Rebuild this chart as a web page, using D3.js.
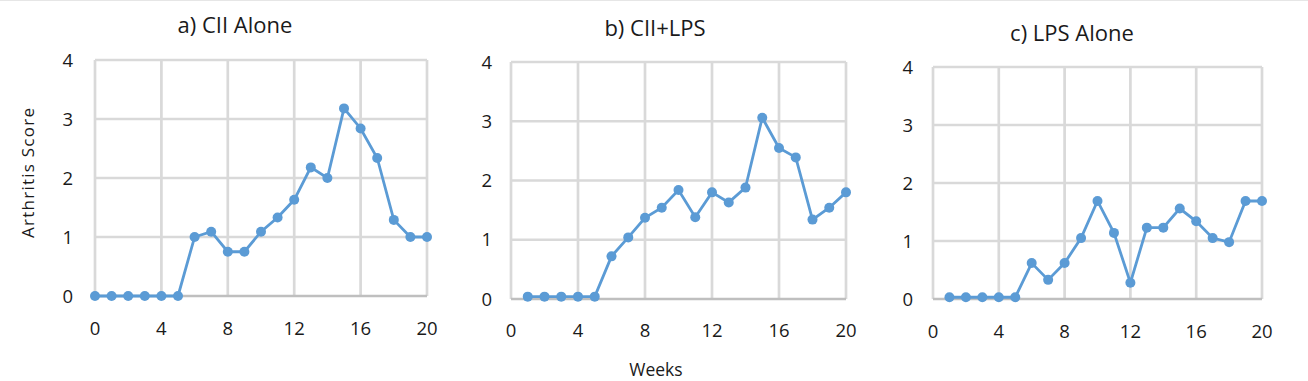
<!DOCTYPE html>
<html><head><meta charset="utf-8">
<script src="https://cdn.jsdelivr.net/npm/d3@7"></script>
<style>body{margin:0;background:#fff}svg{display:block}text{font-family:"Open Sans","Liberation Sans",sans-serif;fill:#1a1a1a}</style>
</head><body>
<script>
const titles = ["a) CII Alone", "b) CII+LPS", "c) LPS Alone"];
const weeksA = [0,1,2,3,4,5,6,7,8,9,10,11,12,13,14,15,16,17,18,19,20];
const weeksBC = [1,2,3,4,5,6,7,8,9,10,11,12,13,14,15,16,17,18,19,20];
const ciiAlone = [0,0,0,0,0,0,1.0,1.09,0.75,0.75,1.09,1.33,1.63,2.18,2.0,3.18,2.84,2.34,1.29,1.0,1.0];
const ciiLps = [0.04,0.04,0.04,0.04,0.04,0.72,1.04,1.37,1.54,1.84,1.38,1.80,1.63,1.88,3.06,2.55,2.39,1.34,1.54,1.80];
const lpsAlone = [0.03,0.03,0.03,0.03,0.03,0.62,0.33,0.62,1.05,1.69,1.14,0.28,1.23,1.23,1.56,1.34,1.05,0.98,1.69,1.69];
const xTicks = [0,4,8,12,16,20];
const yTicks = [0,1,2,3,4];
const yTitle = "Arthritis Score";
const xTitle = "Weeks";

const W = 1308, H = 381;
const svg = d3.select("body").append("svg").attr("width", W).attr("height", H);
svg.append("line").attr("x1",0).attr("x2",W).attr("y1",0.5).attr("y2",0.5).attr("stroke","#e6e6e6");

const panels = [
  {title: titles[0], x: weeksA, y: ciiAlone, left: 95, right: 427, top: 60, bottom: 296, titleX: 235, titleY: 33, yLabX: 73, xLabY: 335},
  {title: titles[1], x: weeksBC, y: ciiLps, left: 511, right: 846, top: 62, bottom: 299, titleX: 655, titleY: 36, yLabX: 492, xLabY: 337},
  {title: titles[2], x: weeksBC, y: lpsAlone, left: 933, right: 1262, top: 67, bottom: 299, titleX: 1072, titleY: 41, yLabX: 913, xLabY: 338}
];

panels.forEach(p => {
  const xs = d3.scaleLinear().domain([0,20]).range([p.left, p.right]);
  const ys = d3.scaleLinear().domain([0,4]).range([p.bottom, p.top]);
  const g = svg.append("g");
  g.selectAll(".vg").data(xTicks).join("line")
    .attr("x1", d => xs(d)).attr("x2", d => xs(d))
    .attr("y1", p.top).attr("y2", p.bottom)
    .attr("stroke", "#d9d9d9").attr("stroke-width", 2.7);
  g.selectAll(".hg").data(yTicks).join("line")
    .attr("x1", p.left).attr("x2", p.right)
    .attr("y1", d => ys(d)).attr("y2", d => ys(d))
    .attr("stroke", d => d === 0 ? "#bfbfbf" : "#d9d9d9").attr("stroke-width", 2.7);
  g.selectAll(".yl").data(yTicks).join("text")
    .attr("x", p.yLabX).attr("y", d => ys(d)).attr("dy", "0.36em")
    .attr("text-anchor", "end").attr("font-size", 18.5).text(d => d);
  g.selectAll(".xl").data(xTicks).join("text")
    .attr("x", d => xs(d)).attr("y", p.xLabY)
    .attr("text-anchor", "middle").attr("font-size", 18.5).text(d => d);
  g.append("text").attr("x", p.titleX).attr("y", p.titleY)
    .attr("text-anchor", "middle").attr("font-size", 22).text(p.title);
  const pts = p.x.map((w, i) => [w, p.y[i]]);
  g.append("path").datum(pts)
    .attr("d", d3.line().x(d => xs(d[0])).y(d => ys(d[1])))
    .attr("fill", "none").attr("stroke", "#5b9bd5").attr("stroke-width", 2.8);
  g.selectAll(".pt").data(pts).join("circle")
    .attr("cx", d => xs(d[0])).attr("cy", d => ys(d[1])).attr("r", 5)
    .attr("fill", "#5b9bd5");
});

svg.append("text").attr("transform", "translate(34,173) rotate(-90)")
  .attr("text-anchor", "middle").attr("font-size", 17)
  .attr("textLength", 130).attr("lengthAdjust", "spacing").text(yTitle);
svg.append("text").attr("x", 656).attr("y", 376)
  .attr("text-anchor", "middle").attr("font-size", 17.5).text(xTitle);
</script>
</body></html>
